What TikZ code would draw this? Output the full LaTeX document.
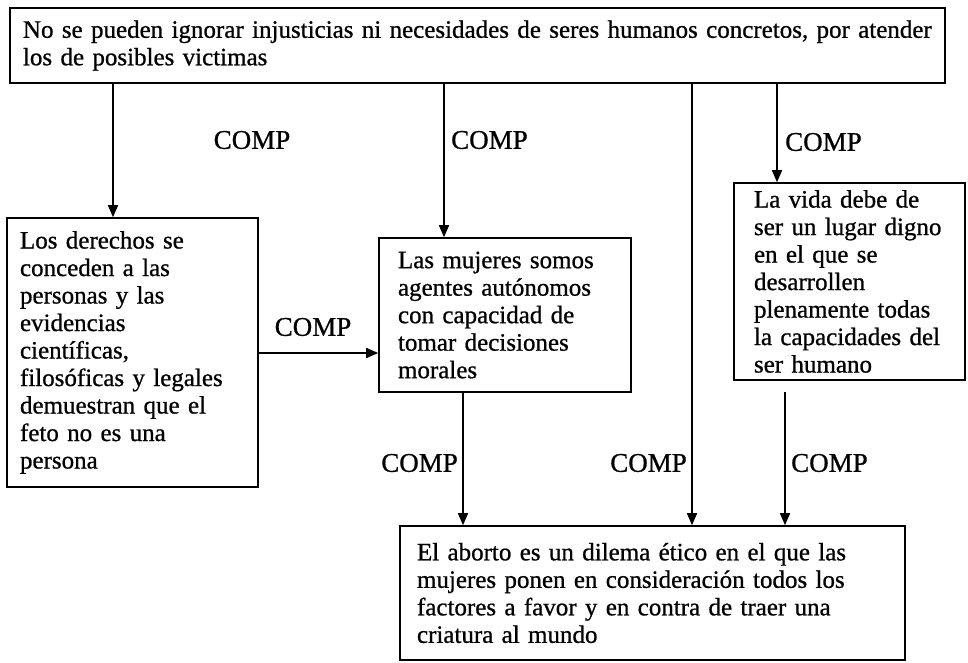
\documentclass[tikz,border=0pt]{standalone}
\usepackage{fontspec}
\setmainfont{Liberation Serif}
\newfontfamily\scanfont{Liberation Serif}[FakeBold=0.8]
\usetikzlibrary{arrows.meta,calc}
\begin{document}
\begin{tikzpicture}[x=1pt,y=-1pt,
  box/.style={draw, line width=1.6pt, rectangle, align=left, inner ysep=0pt, font=\scanfont\fontsize{25}{27.5}\selectfont},
  lbl/.style={font=\scanfont\fontsize{27}{30}\selectfont, inner sep=0pt},
  arr/.style={line width=1.5pt, -{Triangle[length=12pt,width=10pt]}}]
\useasboundingbox[fill=white] (0,0) rectangle (968,663);

\node[box, minimum width=935pt, minimum height=75pt, text width=909pt, inner xsep=13pt] (top) at (477.5,45.5)
  {No se pueden ignorar injusticias ni necesidades de seres humanos concretos, por atender\\los de posibles victimas};
\node[box, minimum width=251pt, minimum height=269pt, text width=225pt, inner xsep=13pt] (lb) at (132.5,352.5)
  {Los derechos se\\conceden a las\\personas y las\\evidencias\\científicas,\\filosóficas y legales\\demuestran que el\\feto no es una\\persona};
\node[box, minimum width=252pt, minimum height=154pt, text width=214pt, inner xsep=19pt] (mb) at (505,315)
  {Las mujeres somos\\agentes autónomos\\con capacidad de\\tomar decisiones\\morales};
\node[box, minimum width=231pt, minimum height=197pt, text width=191pt, inner xsep=20pt] (rb) at (849.5,281.5)
  {La vida debe de\\ser un lugar digno\\en el que se\\desarrollen\\plenamente todas\\la capacidades del\\ser humano};
\node[box, minimum width=505pt, minimum height=134pt, text width=471pt, inner xsep=17pt] (bt) at (652.5,593)
  {El aborto es un dilema ético en el que las\\mujeres ponen en consideración todos los\\factores a favor y en contra de traer una\\criatura al mundo};

\coordinate (c1) at (113,0);
\coordinate (c2) at (444,0);
\coordinate (c3) at (692,0);
\coordinate (c4) at (777,0);
\coordinate (c5) at (463,0);
\coordinate (ch) at (0,353);
\coordinate (gap) at (785,392);

\draw[arr] (top.south -| c1) -- (lb.north -| c1);
\draw[arr] (top.south -| c2) -- (mb.north -| c2);
\draw[arr] (top.south -| c3) -- (bt.north -| c3);
\draw[arr] (top.south -| c4) -- (rb.north -| c4);
\draw[arr] (lb.east |- ch) -- (mb.west |- ch);
\draw[arr] (mb.south -| c5) -- (bt.north -| c5);
\draw[arr] (gap) -- (bt.north -| gap);

\node[lbl] (l1) at (252,140) {COMP};
\node[lbl, anchor=west] (l2) at (451,140) {COMP};
\node[lbl, anchor=west] (l4) at (785,142) {COMP};
\node[lbl] (lh) at (313,327) {COMP};
\node[lbl, anchor=east] (l5) at (458,463) {COMP};
\node[lbl, anchor=east] (l3) at (687,463) {COMP};
\node[lbl, anchor=west] (l6) at (791,463) {COMP};
\end{tikzpicture}
\end{document}
